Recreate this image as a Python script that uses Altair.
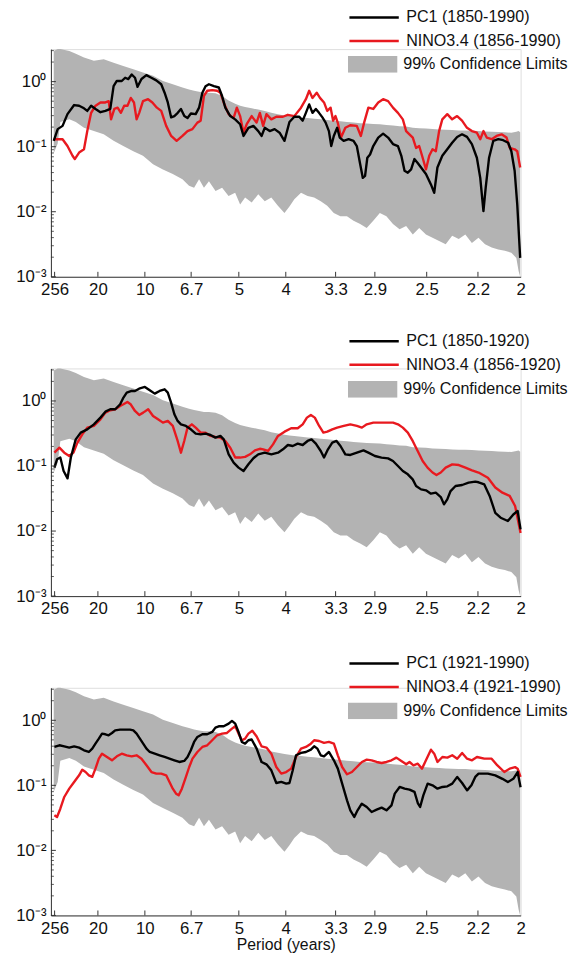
import altair as alt
import pandas as pd

FONT = "Liberation Sans"
GRAY = "#b3b3b3"
RED = "#e8191f"
BLACK = "#000000"
AXIS = "#333333"
TXT = "#111111"

# x axis: tick labels are periods (years), placed at frequency 1/period
period_labels = [256, 20, 10, 6.7, 5, 4, 3.3, 2.9, 2.5, 2.2, 2]
x_ticks = [1.0 / p for p in period_labels]
y_major = [0.001, 0.01, 0.1, 1.0]
y_minor = [m * 10.0 ** e for e in (-3, -2, -1, 0) for m in range(2, 10) if m * 10.0 ** e < 3.1]
YMAX = 10 ** 0.5

# 99% confidence band: (frequency, log10 upper, log10 lower)
band = [
    (0.003, 0.47, -1.10), (0.0072, 0.50, -0.95), (0.0100, 0.50, -0.62), (0.0196, 0.47, -0.58),
    (0.0265, 0.43, -0.62), (0.0352, 0.37, -0.71), (0.0457, 0.32, -0.76), (0.0562, 0.345, -0.81),
    (0.0667, 0.29, -0.91), (0.077, 0.24, -0.99), (0.0877, 0.19, -1.07), (0.098, 0.14, -1.14),
    (0.1087, 0.09, -1.27), (0.1192, 0.01, -1.35), (0.1297, -0.04, -1.42), (0.140, -0.09, -1.50),
    (0.147, -0.12, -1.60), (0.1524, -0.14, -1.63), (0.1577, -0.155, -1.50), (0.1629, -0.17, -1.63),
    (0.1682, -0.17, -1.53), (0.1752, -0.18, -1.68), (0.1822, -0.22, -1.63), (0.1891, -0.29, -1.76),
    (0.1961, -0.34, -1.71), (0.2014, -0.37, -1.89), (0.2067, -0.39, -1.78), (0.2137, -0.41, -1.86),
    (0.2207, -0.43, -1.73), (0.2276, -0.45, -1.84), (0.2346, -0.48, -1.78), (0.2416, -0.50, -1.91),
    (0.2486, -0.52, -2.02), (0.2539, -0.53, -1.92), (0.2591, -0.54, -1.81), (0.2662, -0.55, -1.71),
    (0.2732, -0.56, -1.76), (0.2802, -0.57, -1.78), (0.2872, -0.58, -1.84), (0.2941, -0.59, -1.91),
    (0.3011, -0.60, -2.02), (0.3081, -0.61, -2.07), (0.3151, -0.62, -2.07), (0.3221, -0.63, -2.14),
    (0.3292, -0.64, -2.19), (0.3361, -0.645, -2.25), (0.3431, -0.65, -2.14), (0.3501, -0.655, -2.02),
    (0.3571, -0.665, -2.07), (0.3641, -0.675, -2.19), (0.3711, -0.685, -2.27), (0.3781, -0.69, -2.22),
    (0.3852, -0.71, -2.35), (0.392, -0.715, -2.25), (0.3992, -0.72, -2.35), (0.4062, -0.73, -2.40),
    (0.4132, -0.735, -2.45), (0.4202, -0.74, -2.50), (0.4271, -0.745, -2.37), (0.4341, -0.75, -2.42),
    (0.4411, -0.75, -2.35), (0.4481, -0.755, -2.48), (0.4551, -0.76, -2.40), (0.4621, -0.765, -2.50),
    (0.4692, -0.77, -2.55), (0.4762, -0.775, -2.58), (0.4832, -0.78, -2.60), (0.4901, -0.785, -2.63),
    (0.4954, -0.77, -2.71), (0.4978, -0.76, -2.91), (0.4995, -0.78, -3.00),
]

# spectra: (frequency, log10 power)
pc1_a = [
    (0.003, -0.91), (0.0072, -0.73), (0.0124, -0.68), (0.0176, -0.50), (0.0247, -0.36), (0.030, -0.37),
    (0.0352, -0.41), (0.0387, -0.45), (0.0428, -0.37), (0.0475, -0.42), (0.0527, -0.47), (0.058, -0.45),
    (0.0632, -0.42), (0.0667, -0.07), (0.0701, 0.01), (0.0754, 0.01), (0.079, 0.06), (0.0824, 0.04),
    (0.086, 0.11), (0.0895, 0.06), (0.0922, -0.08), (0.0964, 0.04), (0.1016, 0.10), (0.1069, 0.06),
    (0.1121, 0.02), (0.1174, -0.04), (0.121, -0.17), (0.1244, -0.32), (0.128, -0.55), (0.1314, -0.53),
    (0.135, -0.48), (0.1384, -0.42), (0.142, -0.53), (0.1454, -0.56), (0.149, -0.49), (0.1541, -0.50),
    (0.1577, -0.40), (0.1612, -0.17), (0.1646, -0.07), (0.1682, -0.04), (0.1735, -0.07), (0.1787, -0.09),
    (0.1822, -0.22), (0.1856, -0.40), (0.1909, -0.53), (0.1961, -0.58), (0.2014, -0.655), (0.205, -0.835),
    (0.2102, -0.71), (0.2155, -0.68), (0.2207, -0.76), (0.2242, -0.835), (0.2276, -0.71), (0.2329, -0.76),
    (0.2381, -0.73), (0.2434, -0.785), (0.2486, -0.91), (0.2539, -0.62), (0.2591, -0.54), (0.2644, -0.54),
    (0.268, -0.60), (0.2714, -0.48), (0.2749, -0.35), (0.2784, -0.48), (0.282, -0.42), (0.2854, -0.48),
    (0.289, -0.55), (0.2924, -0.63), (0.2959, -0.76), (0.2984, -0.99), (0.3011, -0.835), (0.3047, -0.71),
    (0.3074, -0.86), (0.3116, -0.91), (0.3169, -0.885), (0.3221, -0.91), (0.3256, -0.99), (0.3292, -1.27),
    (0.332, -1.48), (0.3344, -1.45), (0.3368, -1.17), (0.3397, -1.12), (0.3431, -0.99), (0.3484, -0.86),
    (0.3536, -0.80), (0.3589, -0.86), (0.3641, -0.96), (0.3694, -0.99), (0.373, -1.14), (0.3764, -1.37),
    (0.3799, -1.40), (0.3834, -1.35), (0.3869, -1.19), (0.3904, -1.25), (0.394, -1.32), (0.3992, -1.42),
    (0.4045, -1.58), (0.408, -1.71), (0.4114, -1.32), (0.4166, -1.14), (0.4219, -1.04), (0.4271, -0.94),
    (0.4324, -0.85), (0.4376, -0.81), (0.4429, -0.85), (0.4481, -0.96), (0.4534, -1.17), (0.457, -1.48),
    (0.4604, -1.99), (0.4628, -1.63), (0.4664, -1.17), (0.4709, -0.91), (0.4762, -0.885), (0.4814, -0.90),
    (0.4867, -0.94), (0.4901, -1.07), (0.4936, -1.37), (0.4964, -1.89), (0.4995, -2.71),
]
nino_a = [
    (0.003, -0.885), (0.0124, -0.885), (0.0176, -0.99), (0.023, -1.14), (0.0254, -1.19), (0.030, -1.09),
    (0.0352, -1.04), (0.0387, -0.76), (0.0428, -0.48), (0.0475, -0.37), (0.0527, -0.32), (0.058, -0.32),
    (0.0615, -0.30), (0.064, -0.58), (0.0675, -0.42), (0.071, -0.40), (0.0745, -0.48), (0.078, -0.37),
    (0.0815, -0.37), (0.085, -0.25), (0.0884, -0.32), (0.0912, -0.58), (0.094, -0.48), (0.098, -0.30),
    (0.1034, -0.27), (0.108, -0.32), (0.1128, -0.40), (0.1174, -0.45), (0.1227, -0.68), (0.128, -0.835),
    (0.1338, -0.91), (0.14, -0.835), (0.1454, -0.76), (0.1506, -0.73), (0.1559, -0.63), (0.1594, -0.60),
    (0.1629, -0.22), (0.1664, -0.14), (0.1717, -0.13), (0.1769, -0.14), (0.1804, -0.17), (0.1839, -0.32),
    (0.1891, -0.50), (0.1944, -0.56), (0.1979, -0.40), (0.2014, -0.53), (0.205, -0.785), (0.2084, -0.655),
    (0.2137, -0.53), (0.2189, -0.63), (0.2224, -0.48), (0.2259, -0.68), (0.2294, -0.50), (0.2346, -0.58),
    (0.2399, -0.54), (0.2469, -0.54), (0.2521, -0.51), (0.2591, -0.53), (0.2662, -0.40), (0.2714, -0.27),
    (0.2749, -0.14), (0.2784, -0.25), (0.2829, -0.17), (0.2864, -0.25), (0.2907, -0.32), (0.2941, -0.45),
    (0.2977, -0.40), (0.3004, -0.60), (0.3029, -0.53), (0.3053, -0.63), (0.3088, -0.86), (0.3134, -0.71),
    (0.3186, -0.67), (0.3256, -0.68), (0.3299, -0.835), (0.3334, -0.63), (0.3379, -0.40), (0.3431, -0.42),
    (0.3484, -0.32), (0.3536, -0.27), (0.3589, -0.30), (0.3641, -0.40), (0.3694, -0.48), (0.3746, -0.58),
    (0.3781, -0.76), (0.3816, -0.81), (0.3852, -0.86), (0.3887, -1.02), (0.392, -0.99), (0.3957, -1.17),
    (0.3992, -1.35), (0.4027, -1.14), (0.4062, -1.04), (0.4097, -1.07), (0.4132, -0.76), (0.4166, -0.58),
    (0.4219, -0.50), (0.4271, -0.58), (0.4324, -0.53), (0.4376, -0.60), (0.4429, -0.71), (0.4481, -0.76),
    (0.4534, -0.785), (0.457, -0.885), (0.4604, -0.76), (0.4639, -0.86), (0.4692, -0.885), (0.4744, -0.835),
    (0.4797, -0.81), (0.485, -0.86), (0.4884, -1.02), (0.4936, -1.04), (0.4964, -1.07), (0.4995, -1.32),
]
pc1_b = [
    (0.0037, -1.025), (0.0065, -0.897), (0.010, -0.87), (0.0135, -1.077), (0.0177, -1.19), (0.0212, -0.87),
    (0.0264, -0.59), (0.0317, -0.487), (0.0387, -0.436), (0.0457, -0.359), (0.0527, -0.256), (0.058, -0.164),
    (0.0632, -0.128), (0.0685, -0.128), (0.0737, -0.051), (0.0772, 0.052), (0.0807, 0.128), (0.0859, 0.154),
    (0.0895, 0.154), (0.0947, 0.195), (0.100, 0.216), (0.1052, 0.164), (0.1105, 0.113), (0.1157, 0.154),
    (0.121, 0.18), (0.1244, 0.128), (0.1279, -0.025), (0.1314, -0.205), (0.1349, -0.307), (0.1384, -0.359),
    (0.1437, -0.384), (0.1489, -0.436), (0.1541, -0.502), (0.1594, -0.513), (0.1646, -0.502), (0.1699, -0.523),
    (0.1751, -0.564), (0.1804, -0.538), (0.184, -0.59), (0.1892, -0.82), (0.1945, -0.948), (0.1997, -1.025),
    (0.205, -1.077), (0.2102, -0.974), (0.2155, -0.88), (0.2207, -0.82), (0.2276, -0.795), (0.2346, -0.82),
    (0.2417, -0.795), (0.247, -0.743), (0.2522, -0.677), (0.2574, -0.692), (0.2627, -0.656), (0.268, -0.677),
    (0.2732, -0.615), (0.2774, -0.59), (0.282, -0.656), (0.2872, -0.769), (0.2907, -0.87), (0.2949, -0.743),
    (0.2995, -0.641), (0.304, -0.615), (0.3082, -0.692), (0.3134, -0.82), (0.3187, -0.83), (0.3257, -0.795),
    (0.3327, -0.759), (0.3379, -0.795), (0.3449, -0.846), (0.3519, -0.87), (0.3589, -0.882), (0.3641, -0.923),
    (0.3694, -1.0), (0.3746, -1.077), (0.3799, -1.128), (0.3851, -1.205), (0.3887, -1.307), (0.394, -1.359),
    (0.3992, -1.374), (0.4045, -1.425), (0.4097, -1.41), (0.415, -1.477), (0.4184, -1.59), (0.4219, -1.513),
    (0.4254, -1.385), (0.4307, -1.307), (0.4377, -1.292), (0.4446, -1.256), (0.4517, -1.241), (0.4552, -1.25),
    (0.4613, -1.283), (0.467, -1.46), (0.473, -1.72), (0.4787, -1.795), (0.4864, -1.846), (0.4922, -1.745),
    (0.4968, -1.69), (0.4999, -1.975),
]
nino_b = [
    (0.0037, -0.795), (0.009, -0.718), (0.0142, -0.795), (0.0195, -0.846), (0.024, -0.795), (0.0282, -0.641),
    (0.0334, -0.513), (0.0387, -0.41), (0.0457, -0.384), (0.0527, -0.282), (0.058, -0.179), (0.0632, -0.143),
    (0.0685, -0.128), (0.0737, -0.077), (0.0772, -0.051), (0.0814, -0.015), (0.0849, -0.051), (0.0895, -0.154),
    (0.094, -0.215), (0.0982, -0.179), (0.1035, -0.128), (0.1087, -0.23), (0.114, -0.282), (0.1192, -0.333),
    (0.1244, -0.307), (0.1297, -0.384), (0.1349, -0.615), (0.1384, -0.795), (0.1419, -0.615), (0.1454, -0.41),
    (0.150, -0.359), (0.1541, -0.41), (0.1594, -0.487), (0.1646, -0.487), (0.1699, -0.538), (0.1751, -0.554),
    (0.1804, -0.564), (0.1856, -0.615), (0.1909, -0.718), (0.1962, -0.87), (0.2014, -0.87), (0.2067, -0.86),
    (0.2119, -0.82), (0.2172, -0.759), (0.2224, -0.735), (0.2259, -0.743), (0.2311, -0.769), (0.2364, -0.667),
    (0.2417, -0.538), (0.2487, -0.472), (0.2557, -0.42), (0.2627, -0.42), (0.268, -0.359), (0.2725, -0.256),
    (0.2767, -0.215), (0.2809, -0.256), (0.2855, -0.384), (0.290, -0.487), (0.2942, -0.472), (0.2995, -0.436),
    (0.3047, -0.41), (0.3117, -0.384), (0.3187, -0.359), (0.3257, -0.384), (0.331, -0.41), (0.3362, -0.359),
    (0.3432, -0.333), (0.3502, -0.333), (0.3572, -0.333), (0.3642, -0.333), (0.3694, -0.359), (0.3746, -0.41),
    (0.3799, -0.487), (0.3851, -0.615), (0.3904, -0.769), (0.3957, -0.923), (0.4009, -1.025), (0.4062, -1.10),
    (0.4104, -1.138), (0.415, -1.10), (0.4202, -1.025), (0.4272, -0.974), (0.4342, -0.985), (0.4412, -1.025),
    (0.4482, -1.066), (0.4552, -1.10), (0.4651, -1.18), (0.473, -1.33), (0.4806, -1.41), (0.4883, -1.46),
    (0.4941, -1.615), (0.4999, -2.03),
]
pc1_c = [
    (0.0037, -0.41), (0.009, -0.384), (0.0142, -0.40), (0.0195, -0.42), (0.0247, -0.40), (0.030, -0.42),
    (0.0352, -0.461), (0.0404, -0.487), (0.044, -0.436), (0.0474, -0.359), (0.051, -0.282), (0.0544, -0.205),
    (0.058, -0.215), (0.0614, -0.23), (0.065, -0.195), (0.0684, -0.154), (0.0737, -0.143), (0.079, -0.143),
    (0.0842, -0.143), (0.0877, -0.154), (0.0912, -0.205), (0.0947, -0.282), (0.0982, -0.359), (0.1017, -0.436),
    (0.1052, -0.487), (0.1105, -0.513), (0.1157, -0.538), (0.121, -0.564), (0.1262, -0.59), (0.1314, -0.615),
    (0.1367, -0.641), (0.1419, -0.625), (0.1454, -0.564), (0.1489, -0.461), (0.1524, -0.333), (0.1559, -0.256),
    (0.1612, -0.215), (0.1664, -0.215), (0.1717, -0.179), (0.1751, -0.113), (0.1786, -0.092), (0.1839, -0.092),
    (0.1892, -0.051), (0.1927, -0.01), (0.1962, -0.051), (0.1997, -0.179), (0.2032, -0.333), (0.2067, -0.359),
    (0.2102, -0.307), (0.2137, -0.295), (0.219, -0.436), (0.2242, -0.641), (0.2294, -0.677), (0.2346, -0.769),
    (0.2399, -0.964), (0.2452, -0.948), (0.2504, -0.974), (0.2539, -0.964), (0.2574, -0.769), (0.2609, -0.538),
    (0.2662, -0.502), (0.2714, -0.487), (0.2767, -0.451), (0.2802, -0.40), (0.2837, -0.436), (0.2872, -0.538),
    (0.2907, -0.554), (0.2959, -0.487), (0.3012, -0.615), (0.3054, -0.743), (0.310, -0.974), (0.3152, -1.23),
    (0.3187, -1.384), (0.3229, -1.487), (0.3264, -1.384), (0.3309, -1.282), (0.3362, -1.333), (0.3414, -1.41),
    (0.3467, -1.374), (0.352, -1.343), (0.3572, -1.384), (0.3625, -1.307), (0.366, -1.128), (0.3712, -1.025),
    (0.3765, -1.051), (0.3817, -1.066), (0.387, -1.10), (0.3905, -1.272), (0.393, -1.333), (0.3964, -1.154),
    (0.401, -0.974), (0.4062, -1.0), (0.4115, -1.051), (0.4167, -1.025), (0.422, -1.015), (0.4272, -0.974),
    (0.4325, -0.87), (0.4377, -0.964), (0.443, -1.077), (0.4476, -1.0), (0.4517, -0.87), (0.4552, -0.82),
    (0.4651, -0.82), (0.473, -0.846), (0.4806, -0.90), (0.4864, -0.95), (0.4922, -0.90), (0.4968, -0.795),
    (0.4999, -1.03),
]
nino_c = [
    (0.0037, -1.46), (0.0065, -1.487), (0.010, -1.359), (0.0142, -1.179), (0.0195, -1.051), (0.0247, -0.948),
    (0.030, -0.846), (0.0334, -0.759), (0.0369, -0.795), (0.0404, -0.846), (0.044, -0.87), (0.0474, -0.743),
    (0.051, -0.59), (0.0544, -0.513), (0.0597, -0.564), (0.065, -0.615), (0.0702, -0.554), (0.0754, -0.513),
    (0.0807, -0.538), (0.0859, -0.554), (0.0912, -0.538), (0.0964, -0.59), (0.1017, -0.692), (0.107, -0.795),
    (0.1122, -0.82), (0.1174, -0.82), (0.1227, -0.846), (0.1262, -0.948), (0.1297, -1.051), (0.1332, -1.128),
    (0.136, -1.154), (0.1394, -1.051), (0.1437, -0.87), (0.1472, -0.718), (0.1507, -0.59), (0.1559, -0.487),
    (0.1612, -0.41), (0.1664, -0.384), (0.1717, -0.307), (0.1769, -0.23), (0.1822, -0.205), (0.1874, -0.195),
    (0.1927, -0.128), (0.1962, -0.092), (0.1997, -0.205), (0.2032, -0.307), (0.2067, -0.282), (0.2102, -0.205),
    (0.2144, -0.16), (0.219, -0.25), (0.2242, -0.40), (0.2294, -0.42), (0.2346, -0.513), (0.2399, -0.718),
    (0.2452, -0.82), (0.2504, -0.795), (0.2557, -0.743), (0.2609, -0.564), (0.2662, -0.436), (0.2714, -0.41),
    (0.2767, -0.359), (0.2802, -0.307), (0.2855, -0.318), (0.2907, -0.348), (0.2959, -0.333), (0.3012, -0.359),
    (0.3054, -0.538), (0.310, -0.718), (0.3152, -0.83), (0.3204, -0.795), (0.3257, -0.718), (0.331, -0.641),
    (0.3362, -0.605), (0.3414, -0.615), (0.3467, -0.641), (0.352, -0.656), (0.3572, -0.641), (0.3625, -0.615),
    (0.3677, -0.574), (0.373, -0.625), (0.3782, -0.677), (0.3817, -0.641), (0.3859, -0.692), (0.3905, -0.667),
    (0.395, -0.743), (0.3992, -0.615), (0.4045, -0.451), (0.408, -0.513), (0.4115, -0.641), (0.4167, -0.564),
    (0.422, -0.574), (0.4272, -0.538), (0.4325, -0.59), (0.4377, -0.502), (0.443, -0.59), (0.4482, -0.615),
    (0.4535, -0.564), (0.4613, -0.59), (0.4691, -0.59), (0.475, -0.69), (0.4826, -0.795), (0.4883, -0.744),
    (0.4941, -0.72), (0.4968, -0.744), (0.4999, -0.87),
]

W, H = 476, 230.7
BAND_NAME = "99% Confidence Limits"
LEG_FS = 16.3


def to_df(pts, name):
    d = pd.DataFrame(pts, columns=["f", "lv"])
    d["v"] = 10.0 ** d["lv"]
    d["s"] = name
    return d


def panel(pc1, nino, pc1_name, nino_name, leg_y, fill_y, xtitle):
    bdf = pd.DataFrame(band, columns=["f", "lhi", "llo"])
    bdf["v"] = 10.0 ** bdf["lhi"]
    bdf["lo"] = 10.0 ** bdf["llo"]
    bdf["k"] = BAND_NAME

    xs = alt.Scale(domain=[0, 0.5], nice=False, zero=False)
    ys = alt.Scale(type="log", domain=[0.001, YMAX], nice=False)
    xaxis = alt.Axis(values=x_ticks, labelExpr="'' + round(10 / datum.value) / 10",
                     ticks=False, tickSize=0, labelPadding=5, labelFontSize=17, labelFont=FONT,
                     labelColor=TXT, labelOverlap=False, labelFlush=False, domainColor=AXIS,
                     domainWidth=1, grid=False, titleFont=FONT, titleFontSize=16,
                     titleFontWeight="normal", titleColor=TXT, titlePadding=1)
    yaxis = alt.Axis(values=y_major,
                     labelExpr="datum.value > 0.5 ? '10\u2070' : datum.value > 0.05 ? '10\u207b\u00b9' : datum.value > 0.005 ? '10\u207b\u00b2' : '10\u207b\u00b3'",
                     ticks=False, tickSize=0, labelPadding=5, labelFontSize=17, labelFont=FONT,
                     labelColor=TXT, labelOverlap=False, domainColor=AXIS, domainWidth=1, grid=False)
    X = alt.X("f:Q", scale=xs, axis=xaxis, title=xtitle if xtitle else None)
    Y = alt.Y("v:Q", scale=ys, axis=yaxis, title=None)

    stroke_legend = alt.Legend(orient="none", legendX=301, legendY=leg_y, symbolType="stroke",
                               symbolSize=2500, symbolStrokeWidth=2.4, labelFont=FONT,
                               labelFontSize=LEG_FS, labelColor=TXT, labelOffset=6, labelLimit=400,
                               clipHeight=17, rowPadding=6.8, padding=0)
    fill_legend = alt.Legend(orient="none", legendX=301, legendY=fill_y,
                             symbolType="M-1,-0.34H1V0.34H-1Z", symbolSize=2500,
                             symbolStrokeWidth=0, symbolOpacity=1, labelFont=FONT,
                             labelFontSize=LEG_FS, labelColor=TXT, labelOffset=6, labelLimit=400,
                             clipHeight=17, padding=0)
    stroke_scale = alt.Scale(domain=[pc1_name, nino_name], range=[BLACK, RED])
    S = alt.Stroke("s:N", scale=stroke_scale, legend=stroke_legend, title=None)

    area = alt.Chart(bdf).mark_area(opacity=1, fillOpacity=1).encode(
        x=X, y=Y, y2="lo:Q",
        fill=alt.Fill("k:N", scale=alt.Scale(domain=[BAND_NAME], range=[GRAY]),
                      legend=fill_legend, title=None),
    )
    red = alt.Chart(to_df(nino, nino_name)).mark_line(strokeWidth=2.4, strokeJoin="round").encode(
        x=X, y=Y, stroke=S)
    black = alt.Chart(to_df(pc1, pc1_name)).mark_line(strokeWidth=2.4, strokeJoin="round").encode(
        x=X, y=Y, stroke=S)
    xt = alt.Chart(pd.DataFrame({"f": x_ticks[:-1]})).mark_rule(color=AXIS, strokeWidth=1).encode(
        x=X, y=alt.value(H), y2=alt.value(H - 5))
    ymaj = alt.Chart(pd.DataFrame({"v": y_major})).mark_rule(color=AXIS, strokeWidth=1).encode(
        y=Y, x=alt.value(0), x2=alt.value(5))
    ymin = alt.Chart(pd.DataFrame({"v": y_minor})).mark_rule(color=AXIS, strokeWidth=0.8).encode(
        y=Y, x=alt.value(0), x2=alt.value(3))
    return alt.layer(area, red, black, xt, ymaj, ymin).properties(width=W, height=H)


p1 = panel(pc1_a, nino_a, "PC1 (1850-1990)", "NINO3.4 (1856-1990)", -40.5, 7, None)
p2 = panel(pc1_b, nino_b, "PC1 (1850-1920)", "NINO3.4 (1856-1920)", -36, 12.7, None)
p3 = panel(pc1_c, nino_c, "PC1 (1921-1990)", "NINO3.4 (1921-1990)", -33.1, 14.8, "Period (years)")

chart = (
    alt.vconcat(p1, p2, p3, spacing=92.6, bounds="flush")
    .resolve_scale(stroke="independent", fill="independent")
    .resolve_legend(stroke="independent", fill="independent")
    .properties(padding={"left": 6.5, "top": -5.7, "right": 0, "bottom": 0})
    .configure_view(stroke="transparent", strokeWidth=0)
    .configure(font=FONT)
)

chart.save("out.html", embed_options={"renderer": "svg", "actions": False})
